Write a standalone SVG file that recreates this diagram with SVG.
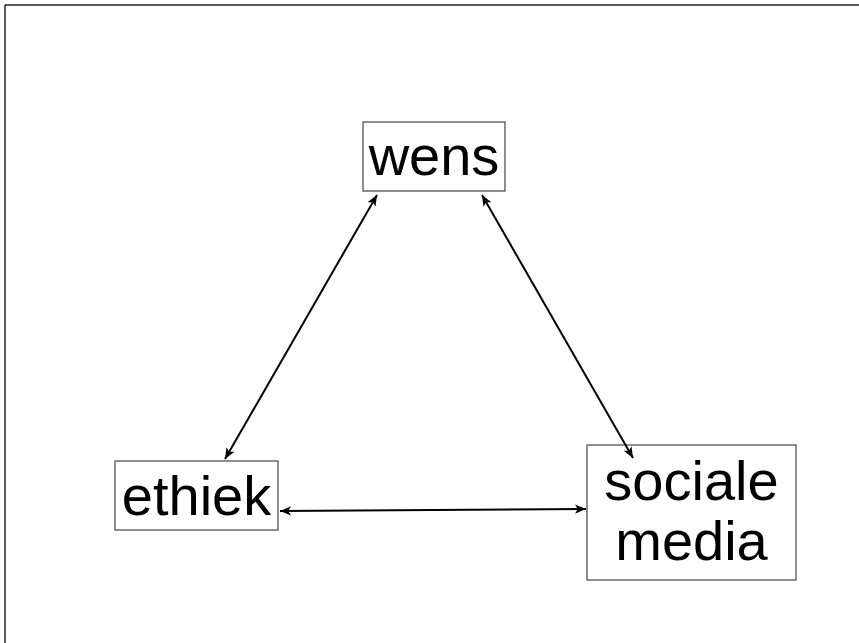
<svg xmlns="http://www.w3.org/2000/svg" width="859" height="643" viewBox="0 0 859 643">
<style>
.box{fill:#fff;stroke:#444;stroke-width:1.2}
.lbl{font-family:"Liberation Sans",Arial,Helvetica,sans-serif;font-size:56px;fill:#000;text-anchor:middle}
.edge{stroke:#000;stroke-width:2;fill:none;marker-start:url(#ah);marker-end:url(#ah)}
</style>
<defs>
<marker id="ah" viewBox="0 0 10 10" refX="10" refY="5" markerWidth="11" markerHeight="11" markerUnits="userSpaceOnUse" orient="auto-start-reverse">
<path d="M0,0.8 L10,5 L0,9.2 L2.5,5 Z" fill="#000"/>
</marker>
</defs>
<rect width="859" height="643" fill="#fff"/>
<g id="frame">
<line x1="5" y1="5" x2="859" y2="5" stroke="#222" stroke-width="1.5"/>
<line x1="5" y1="5" x2="5" y2="643" stroke="#222" stroke-width="1.5"/>
</g>
<g id="wens">
<rect class="box" x="363" y="122" width="142" height="69"/>
<text class="lbl" x="434" y="175">wens</text>
</g>
<g id="ethiek">
<rect class="box" x="115" y="461" width="163" height="69"/>
<text class="lbl" x="196.5" y="515">ethiek</text>
</g>
<g id="sociale-media">
<rect class="box" x="587" y="445" width="209" height="135"/>
<text class="lbl" x="691.5" y="500">sociale</text>
<text class="lbl" x="691.5" y="560">media</text>
</g>
<g id="connectors">
<line class="edge" x1="377" y1="195" x2="225" y2="459"/>
<line class="edge" x1="482" y1="195" x2="633" y2="458"/>
<line class="edge" x1="280" y1="511" x2="586" y2="509"/>
</g>
</svg>
